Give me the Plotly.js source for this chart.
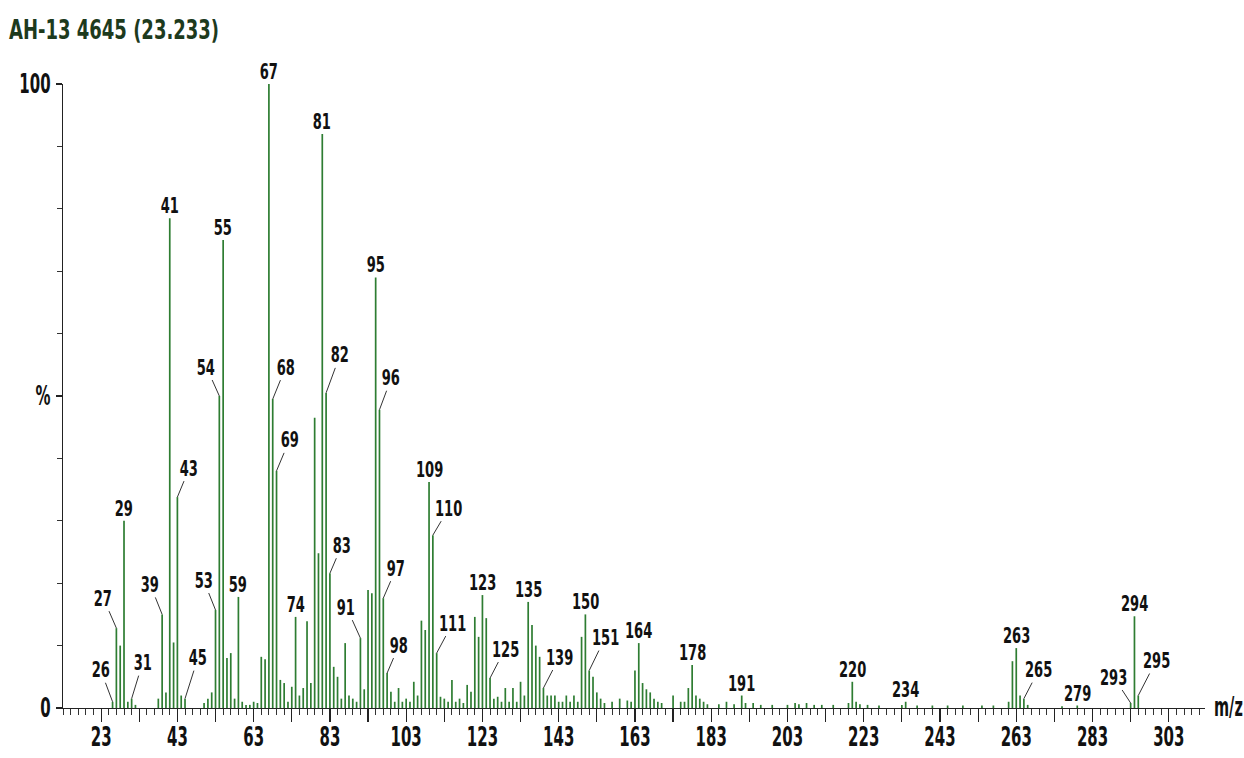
<!DOCTYPE html>
<html>
<head>
<meta charset="utf-8">
<script src="https://cdn.plot.ly/plotly-3.0.1.min.js"></script>
<style>
  html, body { margin: 0; padding: 0; background: #ffffff; }
  #chart { width: 1244px; height: 758px; }
</style>
</head>
<body>
<div id="chart"></div>
<script>
// ---- data ----
const chartTitle = "AH-13 4645 (23.233)";

const mzValues = [
  26, 27, 28, 29, 30, 31, 32, 38, 39, 40, 41, 42, 43, 44, 45, 50, 51, 52, 53, 54,
  55, 56, 57, 58, 59, 60, 61, 62, 63, 64, 65, 66, 67, 68, 69, 70, 71, 72, 73, 74,
  75, 76, 77, 78, 79, 80, 81, 82, 83, 84, 85, 86, 87, 88, 89, 90, 91, 92, 93, 94,
  95, 96, 97, 98, 99, 100, 101, 102, 103, 104, 105, 106, 107, 108, 109, 110, 111, 112, 113, 114,
  115, 116, 117, 118, 119, 120, 121, 122, 123, 124, 125, 126, 127, 128, 129, 130, 131, 132, 133, 134,
  135, 136, 137, 138, 139, 140, 141, 142, 143, 144, 145, 146, 147, 148, 149, 150, 151, 152, 153, 154,
  155, 157, 159, 161, 162, 163, 164, 165, 166, 167, 168, 169, 170, 173, 175, 176, 177, 178, 179, 180,
  181, 182, 185, 187, 189, 191, 192, 194, 196, 199, 203, 205, 206, 208, 210, 212, 215, 219, 220, 221,
  222, 224, 227, 233, 234, 237, 241, 245, 249, 254, 257, 261, 262, 263, 264, 265, 266, 275, 279, 293,
  294, 295
];

const intensities = [
  1.0, 12.8, 10.0, 30.0, 1.0, 1.5, 0.5, 1.5, 15.0, 2.5, 78.5, 10.5, 33.8, 2.0, 1.5, 0.8, 1.5, 2.5, 15.7, 50.0,
  75.0, 8.0, 8.8, 1.5, 17.8, 1.0, 0.5, 0.5, 1.0, 0.8, 8.2, 7.8, 100, 49.5, 38.0, 4.5, 4.0, 1.0, 3.4, 14.6,
  2.0, 3.2, 13.9, 4.0, 46.5, 24.8, 92.0, 50.5, 21.6, 6.6, 5.0, 1.5, 10.4, 2.0, 1.5, 1.0, 11.2, 3.0, 18.9, 18.4,
  69.0, 47.8, 17.6, 5.6, 2.6, 1.0, 3.2, 1.0, 1.5, 1.0, 4.2, 2.0, 14.0, 12.5, 36.2, 27.7, 8.8, 1.8, 1.5, 1.0,
  4.5, 1.0, 1.5, 0.8, 3.7, 2.6, 14.6, 11.4, 18.1, 14.4, 4.8, 1.5, 1.8, 1.0, 3.2, 1.0, 3.2, 1.0, 4.2, 2.0,
  17.0, 13.3, 10.0, 8.2, 3.2, 2.0, 2.0, 2.0, 1.0, 1.0, 2.0, 1.0, 2.0, 1.0, 11.4, 15.0, 6.0, 5.0, 2.5, 1.5,
  0.8, 1.0, 1.5, 1.2, 1.0, 6.0, 10.4, 4.0, 3.0, 2.5, 1.5, 1.0, 0.8, 2.0, 1.0, 1.0, 3.2, 6.9, 2.0, 1.5,
  1.0, 0.6, 0.6, 1.0, 0.6, 2.0, 0.8, 0.8, 0.5, 0.5, 0.5, 0.8, 0.6, 0.8, 0.5, 0.5, 0.5, 0.8, 4.2, 1.0,
  0.6, 0.5, 0.4, 0.5, 1.0, 0.4, 0.4, 0.4, 0.4, 0.4, 0.4, 1.0, 7.5, 9.6, 2.0, 1.5, 0.5, 0.3, 0.4, 0.8,
  14.7, 2.0
];

// peaks that carry an m/z label
const labelledMz = [
  26, 27, 29, 31, 39, 41, 43, 45, 53, 54, 55, 59, 67, 68, 69, 74, 81, 82, 83, 91,
  95, 96, 97, 98, 109, 110, 111, 123, 125, 135, 139, 150, 151, 164, 178, 191, 220, 234, 263, 265,
  279, 293, 294, 295
];

// axis tick labels
const xTickValues = [23, 33, 43, 53, 63, 73, 83, 93, 103, 113, 123, 133, 143, 153, 163, 173, 183, 193, 203, 213, 223, 233, 243, 253, 263, 273, 283, 293, 303];
const xTickLabels = ["23", "", "43", "", "63", "", "83", "", "103", "", "123", "", "143", "", "163", "", "183", "", "203", "", "223", "", "243", "", "263", "", "283", "", "303"];
const yTickValues = [0, 50, 100];
const yTickLabels = ["0", "%", "100"];
const xAxisUnit = "m/z";

// ---- label placement (pixel offsets of the label from the peak top; missing = straight above) ----
const leaderOffsets = {
  26: [-12, -32], 27: [-13, -30], 31: [11, -36], 39: [-12, -30], 43: [12, -29],
  45: [13, -41], 53: [-12, -30], 54: [-13, -29], 68: [13, -32], 69: [13, -31],
  82: [14, -38], 83: [12, -28], 91: [-14, -31], 96: [12, -32], 97: [13, -30],
  98: [12, -28], 110: [16, -27], 111: [16, -30], 125: [15, -29], 139: [16, -31],
  151: [16, -33], 265: [15, -29], 293: [-17, -26], 295: [18, -35]
};

// ---- build stick trace ----
const sx = [], sy = [];
for (let i = 0; i < mzValues.length; i++) {
  sx.push(mzValues[i], mzValues[i], null);
  sy.push(0, intensities[i], null);
}

const FAM = "DejaVu Sans Condensed, Liberation Sans Narrow, Arial Narrow, sans-serif";
const labelFont = { family: FAM, size: 22, color: "#111111", weight: 700 };
const tickFont = { family: FAM, size: 26, color: "#111111", weight: 700 };

const annotations = [];
labelledMz.forEach(m => {
  const idx = mzValues.indexOf(m);
  const v = intensities[idx];
  const off = leaderOffsets[m];
  if (off) {
    annotations.push({
      x: m, y: v, xref: "x", yref: "y", text: String(m),
      showarrow: true, arrowhead: 0, arrowwidth: 1, arrowcolor: "#333333",
      ax: off[0], ay: off[1], standoff: 0, startstandoff: 0,
      font: labelFont, borderpad: 0
    });
  } else {
    annotations.push({
      x: m, y: v, xref: "x", yref: "y", text: String(m),
      showarrow: false, yanchor: "bottom", yshift: -1,
      font: labelFont, borderpad: 0
    });
  }
});
annotations.push({
  x: 1, xref: "paper", xanchor: "left", xshift: 8,
  y: 0, yref: "y", yanchor: "middle", yshift: 1,
  text: xAxisUnit, showarrow: false, font: tickFont, borderpad: 0
});

const layout = {
  width: 1244, height: 758,
  margin: { l: 63, r: 39, t: 84, b: 50 },
  paper_bgcolor: "#ffffff", plot_bgcolor: "#ffffff",
  showlegend: false,
  title: {
    text: chartTitle, xref: "container", yref: "container",
    x: 9 / 1244, xanchor: "left", y: 1 - 30 / 758, yanchor: "middle",
    font: { family: FAM, size: 26, color: "#1d3a1d", weight: 700 }
  },
  xaxis: {
    range: [13, 312.5], showgrid: false, zeroline: false,
    showline: true, linecolor: "#222222", linewidth: 1.2,
    tickmode: "array", tickvals: xTickValues, ticktext: xTickLabels,
    ticks: "outside", ticklen: 13, tickwidth: 1.2, tickcolor: "#222222",
    ticklabelstandoff: -7,
    tickfont: tickFont,
    minor: { tick0: 23, dtick: 2, ticks: "outside", ticklen: 6, tickwidth: 1, tickcolor: "#333333", showgrid: false },
    fixedrange: true
  },
  yaxis: {
    range: [0, 100], showgrid: false, zeroline: false,
    showline: true, linecolor: "#222222", linewidth: 1.2,
    tickmode: "array", tickvals: yTickValues, ticktext: yTickLabels,
    ticks: "outside", ticklen: 6, tickwidth: 1.2, tickcolor: "#222222",
    tickfont: tickFont,
    minor: { dtick: 10, ticks: "outside", ticklen: 5, tickwidth: 1, tickcolor: "#333333", showgrid: false },
    fixedrange: true
  },
  annotations: annotations
};

const trace = {
  type: "scatter", mode: "lines", x: sx, y: sy,
  line: { color: "#2e7d32", width: 1.7 },
  hoverinfo: "skip", cliponaxis: false
};

// narrow the lettering horizontally (the reference uses a tall, condensed face)
function squeeze(el, s, anchor) {
  const bb = el.getBBox();
  let cx = bb.x + bb.width / 2;
  if (anchor === "start") cx = bb.x;
  if (anchor === "end") cx = bb.x + bb.width;
  const prev = el.getAttribute("transform") || "";
  el.setAttribute("transform", prev + " translate(" + cx + ",0) scale(" + s + ",1) translate(" + (-cx) + ",0)");
}

Plotly.newPlot("chart", [trace], layout, { staticPlot: true, displayModeBar: false }).then(gd => {
  gd.querySelectorAll("text.annotation-text").forEach(t => {
    if (t.textContent === xAxisUnit) squeeze(t, 0.62, "start");
    else squeeze(t, 0.66, "middle");
  });
  gd.querySelectorAll(".xtick text").forEach(t => squeeze(t, 0.64, "middle"));
  gd.querySelectorAll(".ytick text").forEach(t => squeeze(t, 0.64, "end"));
  gd.querySelectorAll(".gtitle").forEach(t => squeeze(t, 0.77, "start"));
});
</script>
</body>
</html>
